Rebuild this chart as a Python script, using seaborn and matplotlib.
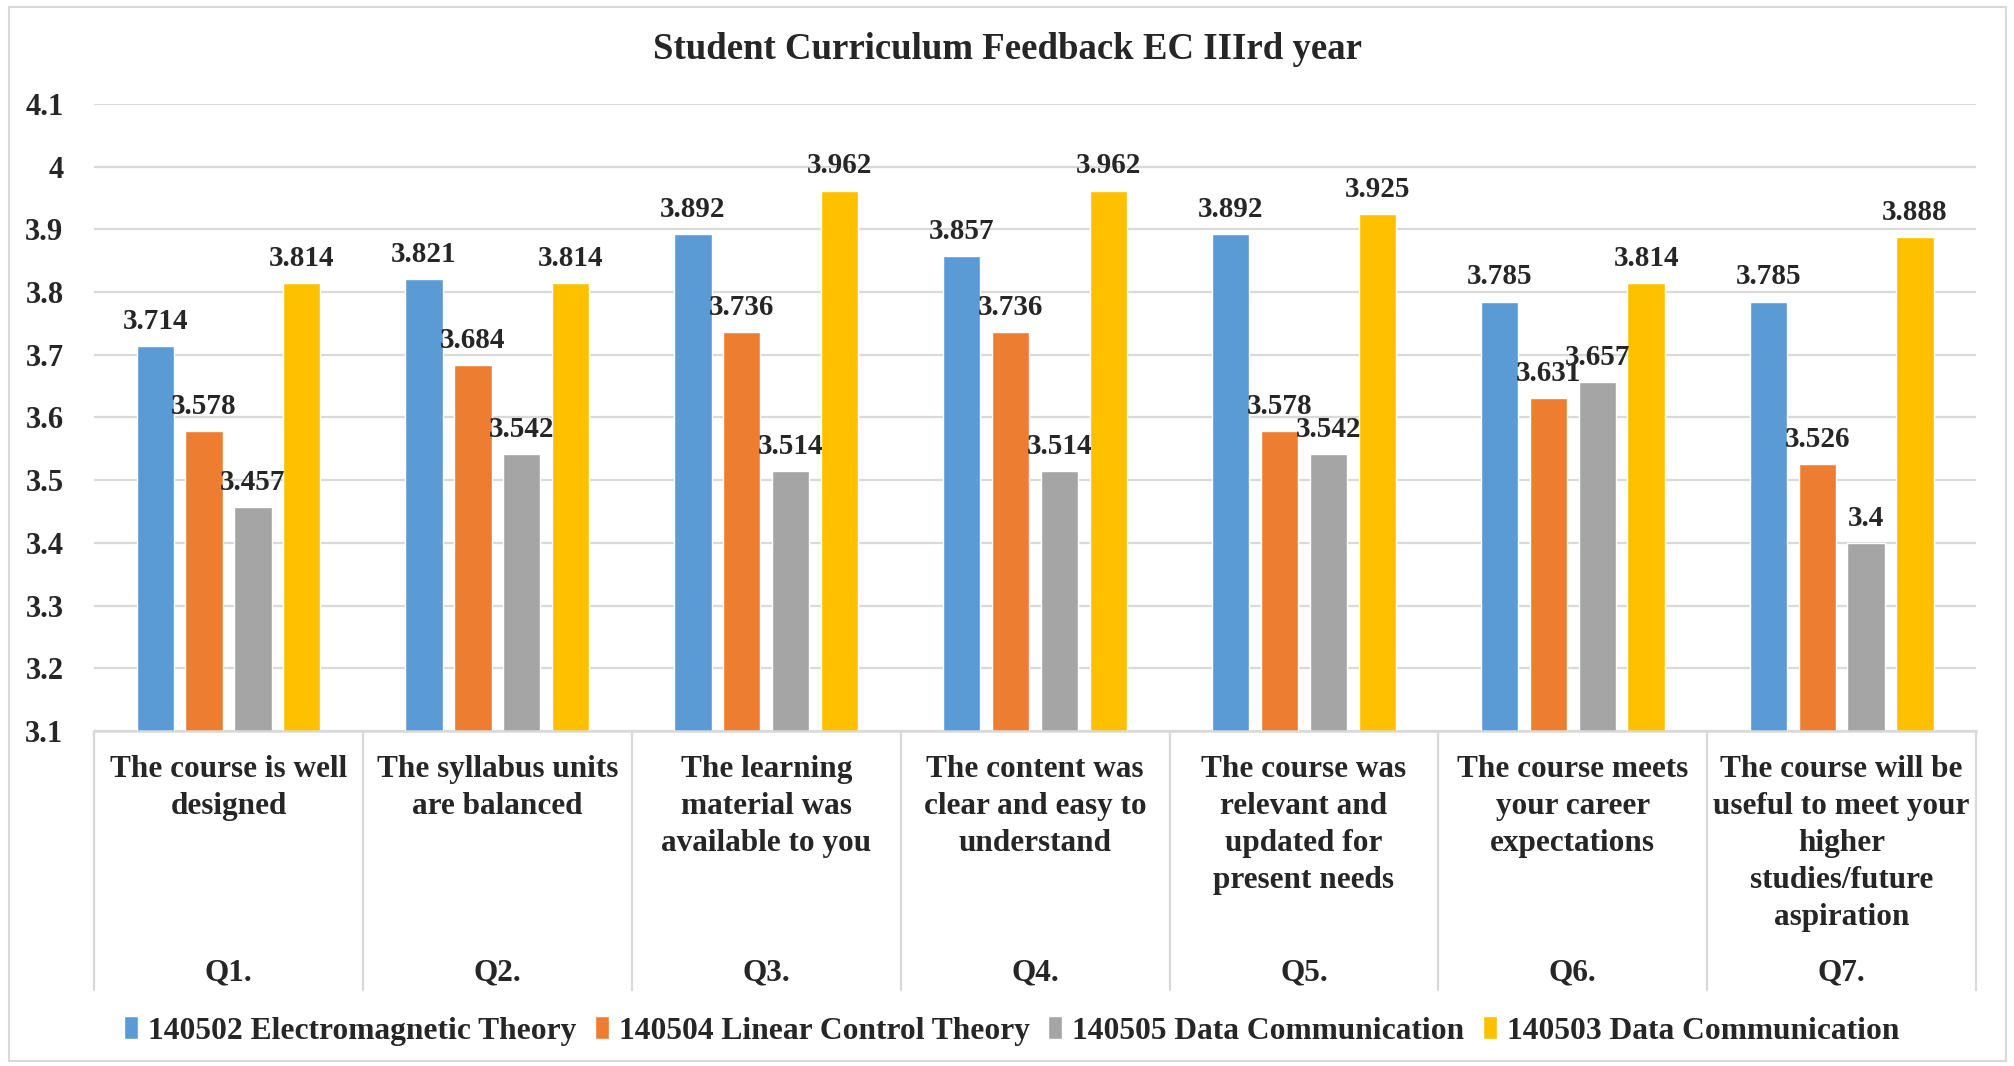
import pandas as pd
import numpy as np
import matplotlib.pyplot as plt
import seaborn as sns
from matplotlib.transforms import blended_transform_factory
from matplotlib.patches import Rectangle

# Chart data
questions = ["Q1.", "Q2.", "Q3.", "Q4.", "Q5.", "Q6.", "Q7."]
question_text = [
    "The course is well\ndesigned",
    "The syllabus units\nare balanced",
    "The learning\nmaterial was\navailable to you",
    "The content was\nclear and easy to\nunderstand",
    "The course was\nrelevant and\nupdated for\npresent needs",
    "The course meets\nyour career\nexpectations",
    "The course will be\nuseful to meet your\nhigher\nstudies/future\naspiration",
]
series_names = [
    "140502 Electromagnetic Theory",
    "140504 Linear Control Theory",
    "140505 Data Communication",
    "140503 Data Communication",
]
emt_140502 = [3.714, 3.821, 3.892, 3.857, 3.892, 3.785, 3.785]
lct_140504 = [3.578, 3.684, 3.736, 3.736, 3.578, 3.631, 3.526]
dc_140505 = [3.457, 3.542, 3.514, 3.514, 3.542, 3.657, 3.4]
dc_140503 = [3.814, 3.814, 3.962, 3.962, 3.925, 3.814, 3.888]
colors = ["#5B9BD5", "#ED7D31", "#A5A5A5", "#FFC000"]

rows = []
for name, vals in zip(series_names, [emt_140502, lct_140504, dc_140505, dc_140503]):
    for q, v in zip(questions, vals):
        rows.append({"question": q, "series": name, "score": v})
df = pd.DataFrame(rows)

sns.set_theme(style="white")
plt.rcParams["font.family"] = ["Liberation Serif", "DejaVu Serif"]
plt.rcParams["font.weight"] = "bold"

fig = plt.figure(figsize=(20.15, 10.66), dpi=100)
ax = fig.add_axes([0.0467, 0.3143, 0.934, 0.5881])

sns.barplot(data=df, x="question", y="score", hue="series", hue_order=series_names,
            order=questions, palette=colors, width=0.727, gap=0.236,
            saturation=1, errorbar=None, ax=ax)

ax.set_ylim(3.1, 4.1)
ax.set_xlim(-0.5, len(questions) - 0.5)
ax.set_yticks(np.arange(3.1, 4.15, 0.1))
ax.set_yticklabels(["3.1", "3.2", "3.3", "3.4", "3.5", "3.6", "3.7", "3.8", "3.9", "4", "4.1"],
                   fontsize=22, fontweight="bold")
ax.set_xticks([])
ax.set_xlabel("")
ax.set_ylabel("")
ax.tick_params(axis="y", length=0, pad=22)
ax.yaxis.grid(True, color="#D9D9D9", linewidth=1.6)
ax.set_axisbelow(True)
for side in ["left", "right", "top"]:
    ax.spines[side].set_visible(False)
ax.spines["bottom"].set_color("#D9D9D9")
ax.spines["bottom"].set_linewidth(1.8)

for cont in ax.containers:
    ax.bar_label(cont, fmt="%g", padding=8, fontsize=21, fontweight="bold")

# multi-level category axis
for i, (q, txt) in enumerate(zip(questions, question_text)):
    ax.annotate(txt, xy=(i, 0), xycoords=("data", "axes fraction"),
                xytext=(0, -17), textcoords="offset points",
                ha="center", va="top", fontsize=22.5, fontweight="bold",
                linespacing=1.37)
    ax.annotate(q, xy=(i, 0), xycoords=("data", "axes fraction"),
                xytext=(0, -174), textcoords="offset points",
                ha="center", va="center", fontsize=22.5, fontweight="bold")

trans = blended_transform_factory(ax.transData, fig.transFigure)
for b in np.arange(-0.5, len(questions), 1.0):
    ax.plot([b, b], [0.3143, 0.0713], transform=trans, color="#D9D9D9",
            linewidth=1.6, clip_on=False)

handles, labels = ax.get_legend_handles_labels()
ax.legend_.remove()
fig.legend(handles, labels, loc="center", bbox_to_anchor=(0.502, 0.033), ncol=4,
           frameon=False, handlelength=0.45, handleheight=0.75,
           handletextpad=0.3, columnspacing=0.6, prop={"weight": "bold", "size": 22.7})

fig.suptitle("Student Curriculum Feedback EC IIIrd year", x=0.5, y=0.954,
             va="center", fontsize=26.5, fontweight="bold")

fig.patches.append(Rectangle((0.0045, 0.005), 0.991, 0.988, transform=fig.transFigure,
                             fill=False, edgecolor="#D9D9D9", linewidth=1.5))

fig.savefig("out.png", dpi=100)
